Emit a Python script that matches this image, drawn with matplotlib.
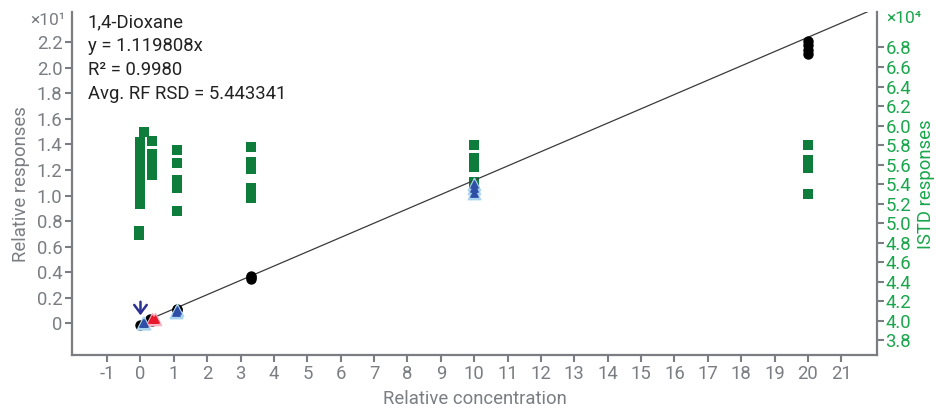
import numpy as np
import matplotlib

matplotlib.use("Agg")
import matplotlib.pyplot as plt

plt.rcParams["font.family"] = ["Roboto", "DejaVu Sans"]
plt.rcParams["axes.unicode_minus"] = False

# calibration points (relative responses, x10^1)
black_x = [0.0, 0.3, 0.33, 1.1, 1.1, 3.3, 3.3, 3.3, 10, 10, 20, 20, 20, 20]
black_y = [-0.01, 0.03, 0.02, 0.11, 0.10, 0.35, 0.36, 0.37, 1.04, 1.06, 2.21, 2.18, 2.14, 2.11]

# QC points (blue) and flagged points (red)
blue_x = [0.07, 0.12, 1.05, 1.1, 10, 10, 10]
blue_y = [0.00, 0.00, 0.09, 0.10, 1.02, 1.06, 1.09]
red_x = [0.33, 0.42]
red_y = [0.03, 0.035]

# ISTD responses (x10^4)
istd_x = [0.0] * 10 + [-0.03, -0.03, 0.1] + [0.33] * 5 + [1.1] * 5 + [3.3] * 5 + [10] * 5 + [20] * 4
istd_y = [5.83, 5.76, 5.69, 5.62, 5.55, 5.48, 5.41, 5.34, 5.27, 5.20,
          4.92, 4.88, 5.93,
          5.84, 5.71, 5.62, 5.53, 5.49,
          5.75, 5.62, 5.44, 5.36, 5.12,
          5.78, 5.63, 5.55, 5.36, 5.26,
          5.80, 5.67, 5.58, 5.42, 5.34,
          5.80, 5.65, 5.56, 5.30]

slope = 1.119808
x_ticks = list(range(-1, 22))
left_ticks = [0, 0.2, 0.4, 0.6, 0.8, 1.0, 1.2, 1.4, 1.6, 1.8, 2.0, 2.2]
right_ticks = [3.8, 4.0, 4.2, 4.4, 4.6, 4.8, 5.0, 5.2, 5.4, 5.6, 5.8, 6.0, 6.2, 6.4, 6.6, 6.8]

grey = "#7a7d82"
green_mk = "#0e7d3c"
green_txt = "#1aa64c"
fs = 13.3

fig = plt.figure(figsize=(9.36, 4.12), dpi=100)
ax = fig.add_axes([0.077, 0.138, 0.86, 0.832])
ax2 = ax.twinx()
ax.set_zorder(ax2.get_zorder() + 1)
ax.patch.set_visible(False)

# ISTD squares on right axis
ax2.scatter(istd_x, istd_y, marker="s", s=52, color=green_mk, linewidths=0, zorder=2)

# fit line
xl = np.array([0, 22.5])
ax.plot(xl, slope / 10 * xl, color="#3a3a3a", lw=0.9, zorder=2)

ax.scatter(black_x, black_y, s=42, color="black", zorder=3)
ax.scatter(blue_x, blue_y, marker="^", s=80, color="#a9d3ee", zorder=4)
ax.scatter(blue_x, blue_y, marker="^", s=28, color="#2f4fa6", zorder=5)
ax.scatter(red_x, red_y, marker="^", s=75, color="#f9b2c0", zorder=4)
ax.scatter(red_x, red_y, marker="^", s=28, color="#e8172b", zorder=5)

ax.annotate("", xy=(0, 0.04), xytext=(0, 0.19),
            arrowprops=dict(arrowstyle="->,head_length=0.6,head_width=0.45",
                            color="#2e3192", lw=1.8), zorder=6)

ax.set_xlim(-2.05, 22.07)
ax.set_ylim(-0.25, 2.435)
ax2.set_ylim(3.647, 7.16)

ax.set_xticks(x_ticks)
ax.set_yticks(left_ticks)
ax.set_yticklabels(["0" if t == 0 else "{:.1f}".format(t) for t in left_ticks])
ax2.set_yticks(right_ticks)
ax2.set_yticklabels(["{:.1f}".format(t) for t in right_ticks])

for a in (ax, ax2):
    for s in a.spines.values():
        s.set_visible(False)
        s.set_color(grey)
        s.set_linewidth(1.6)
ax.spines["left"].set_visible(True)
ax.spines["bottom"].set_visible(True)
ax2.spines["right"].set_visible(True)

ax.tick_params(axis="both", colors=grey, labelsize=fs, length=5, width=1.5, pad=2)
ax2.tick_params(axis="y", colors=grey, labelcolor=green_txt, labelsize=fs,
                length=5, width=1.5, pad=1)

ax.set_xlabel("Relative concentration", color=grey, fontsize=fs, labelpad=5)
ax.set_ylabel("Relative responses", color=grey, fontsize=fs, labelpad=5)
ax2.set_ylabel("ISTD responses", color=green_txt, fontsize=fs, labelpad=4)

fig.text(0.0695, 0.951, "×10¹", color=grey, fontsize=12.5, ha="right", va="center")
fig.text(0.947, 0.956, "×10⁴", color=green_txt, fontsize=12.5, ha="left", va="center")

info = ["1,4-Dioxane", "y = 1.119808x", "R² = 0.9980", "Avg. RF RSD = 5.443341"]
for i, line in enumerate(info):
    fig.text(0.094, 1 - (22 + 24 * i) / 412, line, color="#222222", fontsize=fs,
             ha="left", va="center")

plt.savefig("out.png", dpi=100)
